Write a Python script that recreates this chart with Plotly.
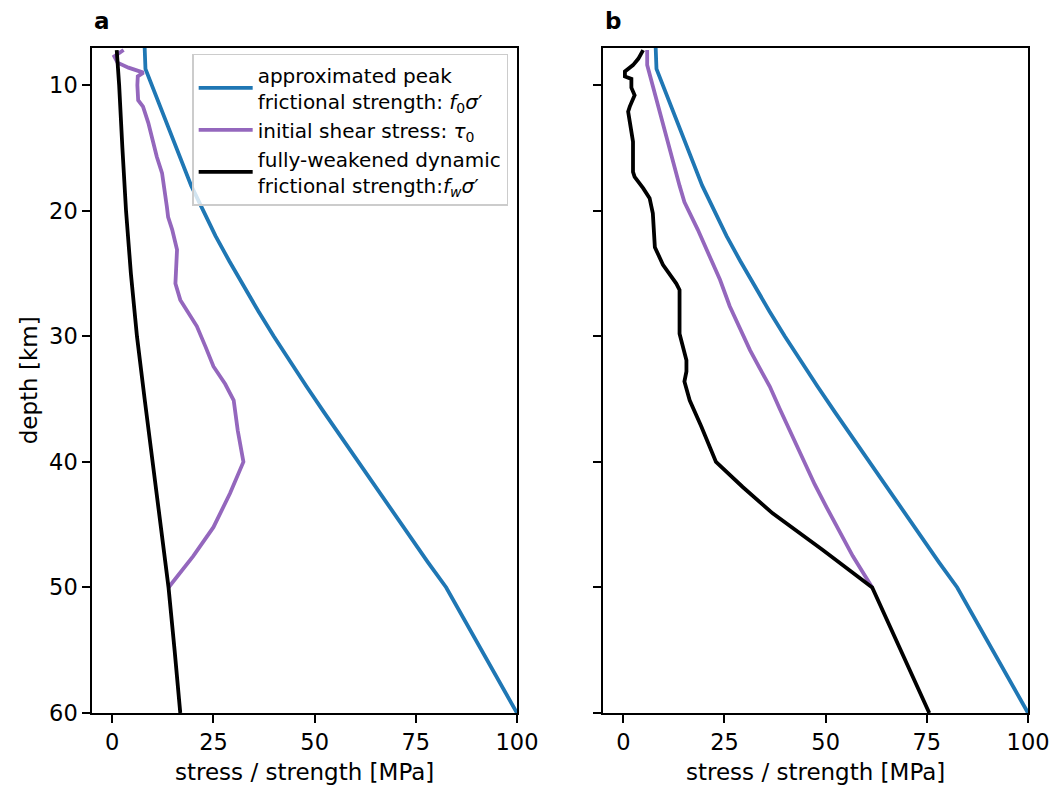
import plotly.graph_objects as go

# ---------------- data ----------------
# approximated peak frictional strength f0*sigma' (same in both panels)
depth_peak = [7.0, 8.7, 18.0, 20, 22, 24, 26, 28, 30, 32, 34, 36, 38, 40,
              42, 44, 46, 48, 50, 52, 54, 56, 58, 60]
peak_strength = [8.0, 8.2, 19.5, 22.4, 25.5, 28.9, 32.4, 36.1, 39.9, 43.9,
                 48.0, 52.2, 56.5, 60.8, 65.0, 69.3, 73.6, 78.0, 82.5, 86.0,
                 89.5, 93.0, 96.5, 100.0]

# panel a: initial shear stress tau0
depth_tau_a = [7.2, 7.7, 8.2, 8.6, 9.0, 9.3, 10.0, 11.2, 11.7, 13.0, 14.4, 15.7,
               17.0, 18.4, 19.7, 20.5, 21.5, 23.1, 25.8, 27.1, 29.2, 30.8, 32.4,
               33.8, 35.1, 37.5, 40.0, 42.5, 45.2, 47.5, 50.0]
tau_a = [2.8, 0.5, 1.3, 4.0, 7.7, 6.3, 6.2, 6.4, 7.6, 8.9, 10.0, 11.0, 12.3, 13.0,
         13.5, 13.8, 14.8, 16.0, 15.6, 16.8, 20.9, 23.0, 25.0, 27.9, 30.0, 31.0,
         32.4, 29.1, 25.0, 20.0, 13.9]

# panel a: fully-weakened dynamic frictional strength fw*sigma'
depth_weak_a = [7.2, 10, 15, 20, 25, 30, 35, 40, 45, 50, 55, 60]
weak_a = [1.1, 1.7, 2.5, 3.4, 4.6, 6.1, 8.0, 10.0, 12.0, 13.9, 15.4, 16.8]

# panel b: initial shear stress tau0
depth_tau_b = [7.2, 8.4, 18.0, 19.3, 21.5, 23.7, 25.5, 27.6, 29.4, 31.1, 32.6,
               34.0, 35.8, 37.5, 39.9, 41.8, 43.6, 45.6, 47.5, 50.0]
tau_b = [5.9, 5.9, 13.9, 15.1, 18.4, 21.4, 23.9, 26.3, 28.8, 31.3, 33.8, 36.2,
         38.7, 41.1, 44.4, 47.3, 50.2, 53.4, 56.7, 61.5]

# panel b: fully-weakened dynamic frictional strength
depth_weak_b = [7.2, 7.9, 8.4, 8.9, 9.3, 9.5, 10.2, 10.8, 11.7, 12.1, 12.9, 14.5,
                16.9, 17.3, 18.2, 19.0, 20.2, 22.9, 24.3, 25.8, 26.3, 29.8, 31.9,
                32.8, 33.6, 35.1, 37.2, 40.0, 42.0, 44.1, 47.0, 50.0, 60.0]
weak_b = [4.9, 3.7, 2.4, 0.4, 0.4, 2.0, 2.0, 2.8, 1.6, 1.2, 1.6, 2.4, 2.4, 2.8, 4.9,
          6.5, 7.3, 7.8, 9.8, 13.1, 13.9, 13.9, 15.6, 15.6, 15.1, 16.4, 19.3,
          22.9, 29.5, 36.9, 49.2, 61.5, 75.6]

x_ticks = [0, 25, 50, 75, 100]
y_ticks = [10, 20, 30, 40, 50, 60]

name_peak = "approximated peak<br>frictional strength: <i>f</i><sub>0</sub><i>σ</i>′"
name_tau = "initial shear stress: <i>τ</i><sub>0</sub>"
name_weak = "fully-weakened dynamic<br>frictional strength:<i>f</i><sub><i>w</i></sub><i>σ</i>′"

BLUE = "#1f77b4"
PURPLE = "#9467bd"
BLACK = "#000000"
LW = 3.8
FONT = "DejaVu Sans"

fig = go.Figure()

# panel a
fig.add_trace(go.Scatter(x=peak_strength, y=depth_peak, mode="lines", name=name_peak,
                         line=dict(color=BLUE, width=LW), xaxis="x", yaxis="y"))
fig.add_trace(go.Scatter(x=tau_a, y=depth_tau_a, mode="lines", name=name_tau,
                         line=dict(color=PURPLE, width=LW), xaxis="x", yaxis="y"))
fig.add_trace(go.Scatter(x=weak_a, y=depth_weak_a, mode="lines", name=name_weak,
                         line=dict(color=BLACK, width=LW), xaxis="x", yaxis="y"))
# panel b
fig.add_trace(go.Scatter(x=peak_strength, y=depth_peak, mode="lines", showlegend=False,
                         line=dict(color=BLUE, width=LW), xaxis="x2", yaxis="y2"))
fig.add_trace(go.Scatter(x=tau_b, y=depth_tau_b, mode="lines", showlegend=False,
                         line=dict(color=PURPLE, width=LW), xaxis="x2", yaxis="y2"))
fig.add_trace(go.Scatter(x=weak_b, y=depth_weak_b, mode="lines", showlegend=False,
                         line=dict(color=BLACK, width=LW), xaxis="x2", yaxis="y2"))

axis_common = dict(showgrid=False, zeroline=False, showline=True, linecolor="black",
                   linewidth=1.6, mirror=True, ticks="outside", ticklen=8,
                   tickwidth=1.6, tickcolor="black", automargin=False,
                   tickfont=dict(family=FONT, size=22.5, color="black"))

Y0, Y1 = 0.094, 0.9396
TITLE_SIZE = 23
fig.update_layout(
    width=1053, height=787,
    margin=dict(l=0, r=0, t=0, b=0),
    paper_bgcolor="white", plot_bgcolor="white",
    font=dict(family=FONT, color="black"),
    xaxis=dict(domain=[0.0874, 0.4910], range=[-5, 100], tickvals=x_ticks,
               anchor="y", **axis_common),
    yaxis=dict(domain=[Y0, Y1], range=[60, 7], tickvals=y_ticks, anchor="x",
               **axis_common),
    xaxis2=dict(domain=[0.5727, 0.9763], range=[-5, 100], tickvals=x_ticks,
                anchor="y2", **axis_common),
    yaxis2=dict(domain=[Y0, Y1], range=[60, 7], tickvals=y_ticks, anchor="x2",
                showticklabels=False, **axis_common),
    legend=dict(x=0.1825, y=0.9315, xanchor="left", yanchor="top",
                bgcolor="rgba(255,255,255,0.8)", bordercolor="#cccccc",
                borderwidth=1.5, font=dict(family=FONT, size=20, color="black"),
                itemwidth=54, tracegroupgap=0),
    showlegend=True,
    annotations=[
        dict(text="<b>a</b>", x=0.0874, y=0.973, xref="paper", yref="paper",
             xanchor="left", yanchor="middle", showarrow=False,
             font=dict(family=FONT, size=TITLE_SIZE, color="black")),
        dict(text="<b>b</b>", x=0.5727, y=0.973, xref="paper", yref="paper",
             xanchor="left", yanchor="middle", showarrow=False,
             font=dict(family=FONT, size=TITLE_SIZE, color="black")),
        dict(text="stress / strength [MPa]", x=(0.0874 + 0.4910) / 2, y=1 - 772 / 787,
             xref="paper", yref="paper", xanchor="center", yanchor="middle",
             showarrow=False, font=dict(family=FONT, size=TITLE_SIZE, color="black")),
        dict(text="stress / strength [MPa]", x=(0.5727 + 0.9763) / 2, y=1 - 772 / 787,
             xref="paper", yref="paper", xanchor="center", yanchor="middle",
             showarrow=False, font=dict(family=FONT, size=TITLE_SIZE, color="black")),
        dict(text="depth [km]", x=29 / 1053, y=(Y0 + Y1) / 2, xref="paper",
             yref="paper", xanchor="center", yanchor="middle", textangle=-90,
             showarrow=False, font=dict(family=FONT, size=TITLE_SIZE, color="black")),
    ],
)

fig.write_html("out.html")
